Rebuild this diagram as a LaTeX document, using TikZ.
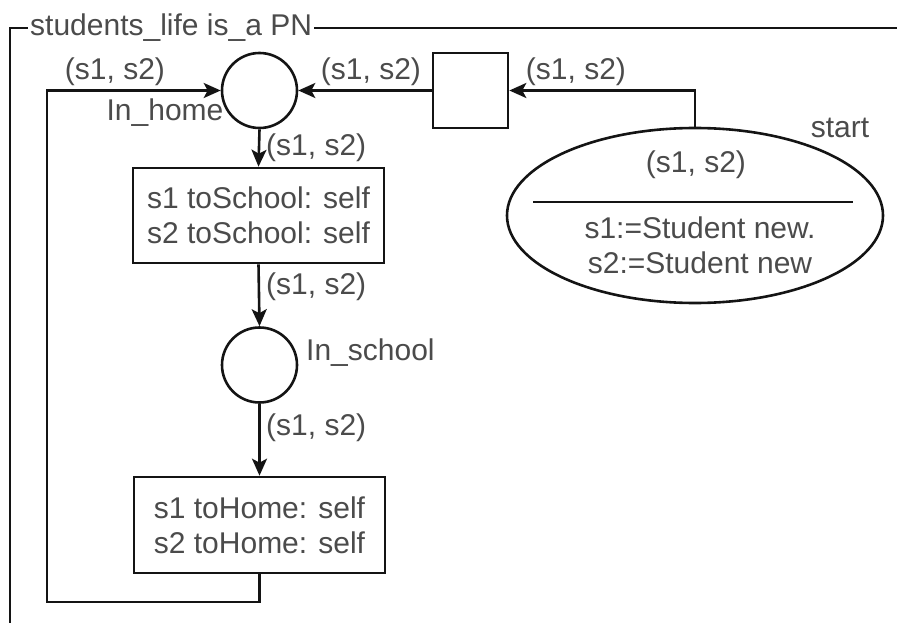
\documentclass[tikz,border=0pt]{standalone}
\usepackage{fontspec}
\setmainfont{Liberation Sans}
\usetikzlibrary{arrows.meta,shapes.geometric}
\definecolor{txt}{RGB}{75,75,75}
\definecolor{ln}{RGB}{20,20,20}
\tikzset{
  every node/.style={font=\fontsize{30}{35}\selectfont, text=txt},
  place/.style={circle, draw=ln, line width=2.6pt, minimum size=75pt, inner sep=0pt},
  trans/.style={rectangle, draw=ln, line width=2.6pt, minimum width=75pt, minimum height=75pt, inner sep=0pt},
  actbox/.style={rectangle, draw=ln, line width=2.6pt, minimum width=251pt, minimum height=95pt, inner sep=0pt, align=center},
  initell/.style={ellipse, draw=ln, line width=2.6pt, minimum width=376pt, minimum height=175pt, inner sep=0pt},
  arc/.style={draw=ln, line width=2.6pt, -{Stealth[length=17pt,width=15pt,inset=4pt]}},
  lbl/.style={inner sep=0pt},
  frameline/.style={draw=ln, line width=2.6pt}
}
\begin{document}
\begin{tikzpicture}[x=1pt,y=-1pt]
\useasboundingbox (0,0) rectangle (897,623);
% frame
\draw[frameline] (897,28) -- (10,28) -- (10,630);
\node[lbl, fill=white, anchor=west, inner xsep=2pt] (title) at (28,28) {students\_life is\_a PN};
% nodes
\node[place] (home) at (259.5,90.5) {};
\node[trans] (t0) at (470.5,90.5) {};
\node[initell] (start) at (695,215.5) {};
\node[actbox] (toschool) at (258.5,215.5) {s1 toSchool: self\\s2 toSchool: self};
\node[place] (school) at (259.5,365) {};
\node[actbox, minimum height=96pt] (tohome) at (259.5,525) {s1 toHome: self\\s2 toHome: self};
\coordinate (loopbl) at (47,602);
% ellipse content
\node[lbl] (stvars) at (696,165) {(s1, s2)};
\coordinate (sepL) at (533,202);
\coordinate (sepR) at (853,202);
\draw[draw=ln, line width=2.4pt] (sepL) -- (sepR);
\node[lbl, align=center] (stinit) at (700,245) {s1:=Student new.\\s2:=Student new};
% labels
\node[lbl] (lhome) at (165,113) {In\_home};
\node[lbl, anchor=west] (lschool) at (306,353) {In\_school};
\node[lbl] (lstart) at (840,128) {start};
% connectors
\draw[arc] (home.south) -- (toschool.north);
\draw[arc] (toschool.south) -- (school.north);
\draw[arc] (school.south) -- (tohome.north);
\draw[arc] (tohome.south) |- (loopbl) |- (home.west);
\draw[arc] (t0.west) -- (home.east);
\draw[arc] (start.north) |- (t0.east);
% arc labels
\node[lbl] (a1) at (115,72) {(s1, s2)};
\node[lbl] (a2) at (371,72) {(s1, s2)};
\node[lbl] (a3) at (576,72) {(s1, s2)};
\node[lbl, anchor=west] (a4) at (266,148) {(s1, s2)};
\node[lbl, anchor=west] (a5) at (266,287) {(s1, s2)};
\node[lbl, anchor=west] (a6) at (266,428) {(s1, s2)};
\end{tikzpicture}
\end{document}
